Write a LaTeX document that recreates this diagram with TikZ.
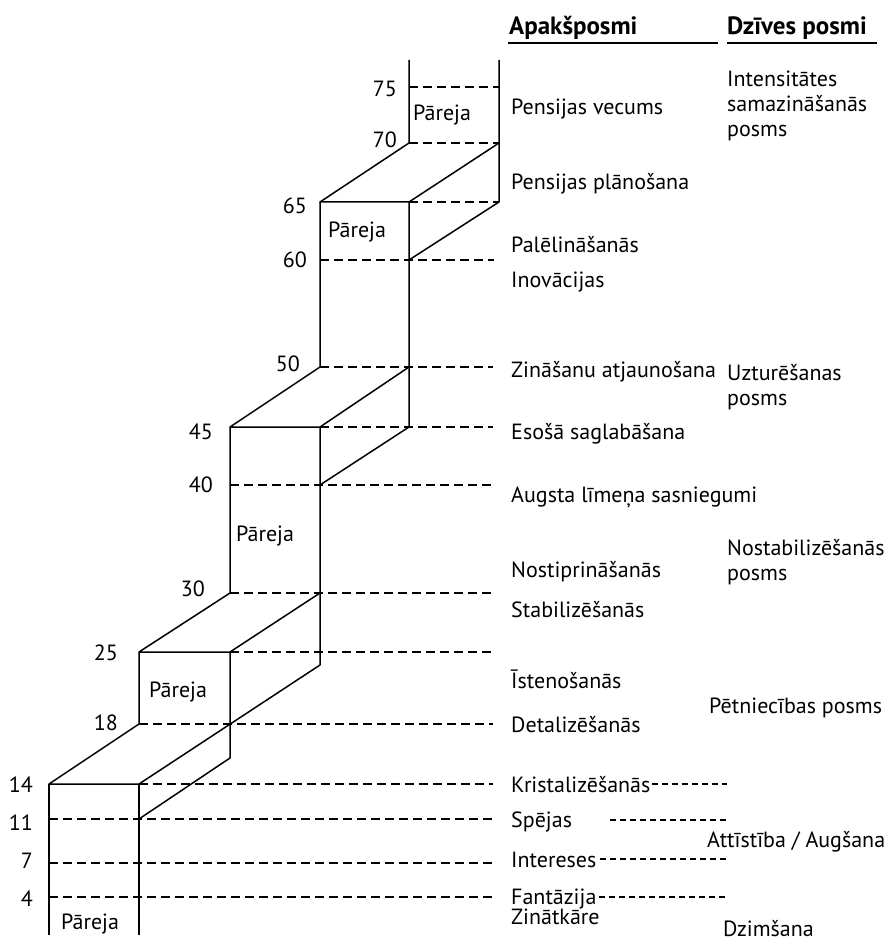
\documentclass[tikz,border=0pt]{standalone}
\usepackage{fontspec}
\setmainfont{PT Sans}
\usetikzlibrary{positioning}

\begin{document}
\begin{tikzpicture}[
    x=1pt, y=-1pt,
    font=\fontsize{22}{25}\selectfont,
    edge/.style={line width=1.5pt, line join=round},
    level/.style={line width=1.5pt, dash pattern=on 9pt off 5pt},
    guide/.style={line width=1.2pt, dash pattern=on 6pt off 4pt},
    age/.style={anchor=east, inner sep=0pt},
    sub/.style={anchor=base west, inner sep=0pt},
    stage/.style={anchor=base west, inner sep=0pt, align=left},
    head/.style={anchor=base west, inner sep=0pt, font=\fontsize{25}{27}\selectfont\bfseries},
    gap/.style={inner sep=0pt}
  ]
    \useasboundingbox (0,0) rectangle (888,941);

    % headers
    \node[head] (subhead) at (509,35) {Apakšposmi};
    \node[head] (stagehead) at (727,35) {Dzīves posmi};
    \draw[line width=1.3pt] (508,43) -- (718,43);
    \draw[line width=1.3pt] (727,43) -- (877,43);

    % staircase
    \draw[edge] (409,60) -- (409,143) -- (320,202) -- (409,202) -- (499,143);
    \draw[edge] (499,60) -- (499,202) -- (409,260);
    \draw[edge] (320,202) -- (320,367) -- (230,427) -- (320,427) -- (409,367);
    \draw[edge] (409,202) -- (409,427) -- (320,485);
    \draw[edge] (230,427) -- (230,593) -- (139,652) -- (230,652) -- (320,593);
    \draw[edge] (320,427) -- (320,665) -- (139,784);
    \draw[edge] (139,652) -- (139,724) -- (49,784) -- (139,784);
    \draw[edge] (230,652) -- (230,758) -- (139,819);
    \draw[edge] (49,784) -- (49,935);
    \draw[edge] (139,784) -- (139,935);

    % age levels
    \foreach \yy/\xa/\xb in {87/409/499, 143/409/499, 202/409/499, 260/320/494,
        367/320/493, 427/320/493, 485/230/493, 593/230/493, 652/230/493,
        724/139/493, 784/139/493, 819/49/493, 863/49/493, 897/49/493}
      \draw[level] (\xa,\yy) -- (\xb,\yy);

    \node[age] (a75) at (397,89) {75};
    \node[age] (a70) at (397,140) {70};
    \node[age] (a65) at (307,206) {65};
    \node[age] (a60) at (307,260) {60};
    \node[age] (a50) at (300,364) {50};
    \node[age] (a45) at (213,432) {45};
    \node[age] (a40) at (213,485) {40};
    \node[age] (a30) at (205,589) {30};
    \node[age] (a25) at (118,653) {25};
    \node[age] (a18) at (118,723) {18};
    \node[age] (a14) at (33,785) {14};
    \node[age] (a11) at (33,823) {11};
    \node[age] (a7) at (33,861) {7};
    \node[age] (a4) at (33,899) {4};

    \node[gap] (p1) at (442,115) {Pāreja};
    \node[gap] (p2) at (357,232) {Pāreja};
    \node[gap] (p3) at (265,536) {Pāreja};
    \node[gap] (p4) at (178,692) {Pāreja};
    \node[gap] (p5) at (90,924) {Pāreja};

    % sub-stages
    \node[sub] (vecums) at (511,115) {Pensijas vecums};
    \node[sub] (planosana) at (511,190) {Pensijas plānošana};
    \node[sub] (palelin) at (511,252) {Palēlināšanās};
    \node[sub] (inovac) at (511,287) {Inovācijas};
    \node[sub] (atjaun) at (511,377) {Zināšanu atjaunošana};
    \node[sub] (saglab) at (511,439) {Esošā saglabāšana};
    \node[sub] (augsta) at (511,502) {Augsta līmeņa sasniegumi};
    \node[sub] (nostipr) at (511,577) {Nostiprināšanās};
    \node[sub] (stabil) at (511,617) {Stabilizēšanās};
    \node[sub] (isten) at (511,688) {Īstenošanās};
    \node[sub] (detal) at (511,732) {Detalizēšanās};
    \node[sub] (krist) at (511,792) {Kristalizēšanās};
    \node[sub] (spejas) at (511,827) {Spējas};
    \node[sub] (inter) at (511,867) {Intereses};
    \node[sub] (fantaz) at (511,904) {Fantāzija};
    \node[sub] (zinatk) at (511,924) {Zinātkāre};

    % life stages
    \node[stage] (intens) at (727,137) {Intensitātes\\samazināšanās\\posms};
    \node[stage] (uztur) at (727,405) {Uzturēšanas\\posms};
    \node[stage] (nostab) at (727,580) {Nostabilizēšanās\\posms};
    \node[stage] (petn) at (709,713) {Pētniecības posms};
    \node[stage] (attist) at (707,847) {Attīstība / Augšana};
    \node[stage] (dzims) at (723,936) {Dzimšana};

    \coordinate (g1) at (727,784);
    \coordinate (g2) at (727,820);
    \coordinate (g3) at (727,859);
    \coordinate (g4) at (727,897);
    \draw[guide] ([xshift=1pt]krist.east |- g1) -- (g1);
    \draw[guide] (610,820) -- (g2);
    \draw[guide] (600,859) -- (g3);
    \draw[guide] (599,897) -- (g4);
  \end{tikzpicture}
\end{document}
